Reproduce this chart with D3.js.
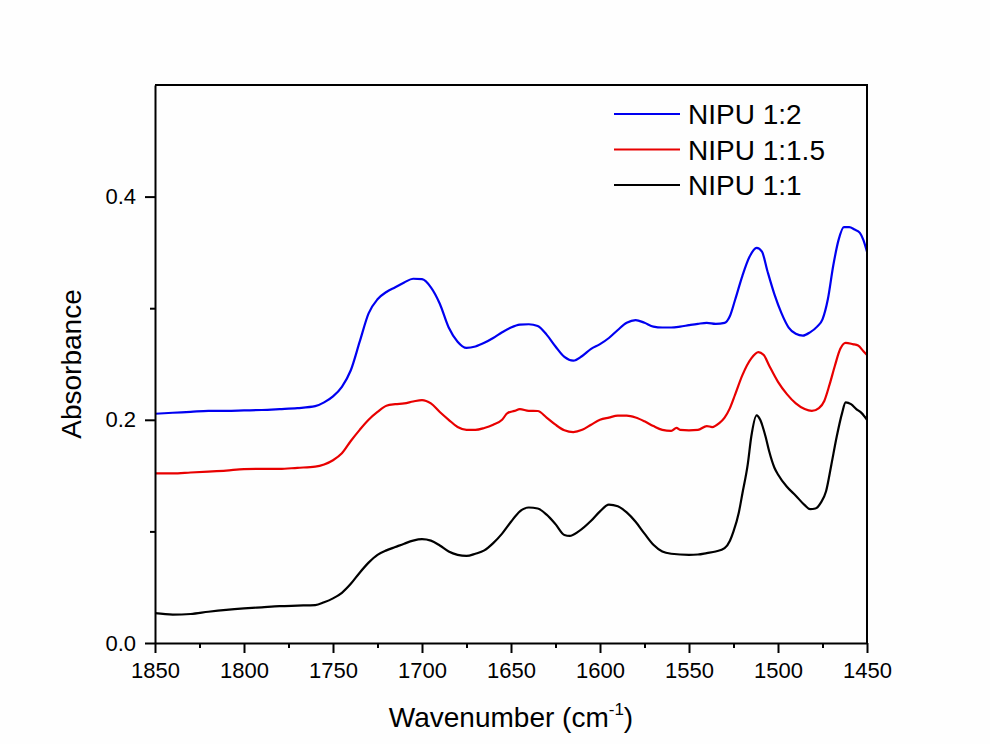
<!DOCTYPE html>
<html>
<head>
<meta charset="utf-8">
<script src="https://cdn.jsdelivr.net/npm/d3@7"></script>
<style>
  html, body { margin: 0; padding: 0; background: #fefefe; }
  svg { display: block; font-family: "Liberation Sans", Arial, sans-serif; }
</style>
</head>
<body>
<svg id="chart" width="990" height="744"></svg>
<script>
// FTIR spectra, values
const nipu12Wn  = [1850,1840,1830,1820,1810,1800,1790,1780,1770,1760,1755,1750,1745,1740,1735,1730,1725,1720,1715,1710,1705,1700,1695,1690,1685,1680,1675,1670,1665,1660,1655,1650,1645,1640,1635,1630,1625,1620,1615,1610,1605,1600,1595,1590,1585,1580,1575,1570,1565,1560,1555,1550,1545,1540,1535,1530,1527,1524,1520,1516,1512,1509,1506,1502,1498,1494,1490,1486,1482,1478,1475,1472,1469,1466,1463,1460,1457,1454,1452,1450];
const nipu12Abs = [0.2054,0.2063,0.2071,0.208,0.208,0.2084,0.2088,0.2096,0.2105,0.2122,0.2156,0.221,0.2296,0.2444,0.270,0.2954,0.308,0.3145,0.3187,0.323,0.3264,0.326,0.3187,0.304,0.2827,0.270,0.2644,0.2657,0.269,0.2733,0.2784,0.2827,0.2852,0.2856,0.284,0.2763,0.2657,0.2563,0.253,0.2572,0.2636,0.2678,0.2733,0.2805,0.2869,0.2894,0.2869,0.2835,0.2827,0.2827,0.2835,0.2848,0.286,0.2869,0.286,0.2869,0.293,0.308,0.329,0.346,0.354,0.3506,0.3336,0.3124,0.2954,0.2827,0.2771,0.2754,0.2784,0.2835,0.290,0.308,0.3378,0.361,0.3726,0.3726,0.3705,0.3675,0.361,0.3505];

const nipu115Wn  = [1850,1840,1830,1820,1810,1800,1790,1780,1770,1760,1755,1750,1745,1740,1735,1730,1725,1720,1715,1710,1705,1700,1695,1690,1685,1680,1675,1670,1665,1660,1655,1652,1648,1645,1640,1635,1630,1625,1620,1615,1610,1605,1600,1595,1590,1585,1580,1575,1570,1565,1560,1557,1555,1550,1545,1540,1537,1533,1530,1527,1524,1520,1515,1511,1508,1505,1500,1495,1490,1485,1481,1477,1474,1471,1468,1465,1462,1458,1455,1452,1450];
const nipu115Abs = [0.152,0.152,0.1528,0.1536,0.1545,0.1558,0.156,0.156,0.157,0.158,0.160,0.1638,0.170,0.181,0.191,0.200,0.207,0.2126,0.214,0.2147,0.2164,0.2177,0.2147,0.207,0.200,0.1935,0.191,0.191,0.1927,0.1956,0.200,0.206,0.208,0.2096,0.208,0.2079,0.202,0.1956,0.1906,0.189,0.191,0.1956,0.200,0.202,0.2037,0.2037,0.202,0.1986,0.1944,0.191,0.190,0.1927,0.191,0.1906,0.191,0.1944,0.1935,0.197,0.202,0.2105,0.223,0.240,0.255,0.2606,0.258,0.2487,0.234,0.223,0.2147,0.2096,0.208,0.2105,0.2169,0.2317,0.2487,0.2636,0.269,0.2678,0.2665,0.2614,0.258];

const nipu11Wn  = [1850,1840,1830,1820,1810,1800,1790,1780,1770,1760,1755,1750,1745,1740,1735,1730,1725,1720,1715,1710,1705,1700,1695,1690,1685,1680,1675,1670,1665,1660,1655,1650,1645,1640,1635,1630,1625,1620,1617,1612,1605,1600,1595,1590,1585,1580,1575,1570,1565,1560,1550,1545,1540,1535,1530,1527,1525,1522,1520,1517,1515,1512,1510,1507,1505,1502,1500,1495,1490,1485,1482,1479,1476,1473,1470,1467,1464,1462,1459,1456,1453,1450];
const nipu11Abs = [0.0267,0.0255,0.026,0.028,0.0297,0.031,0.032,0.033,0.0335,0.034,0.0365,0.040,0.045,0.053,0.063,0.072,0.079,0.083,0.086,0.089,0.0917,0.093,0.0917,0.0874,0.082,0.079,0.078,0.080,0.083,0.0895,0.098,0.1086,0.118,0.1214,0.1205,0.115,0.1065,0.0968,0.096,0.100,0.1095,0.118,0.124,0.1226,0.117,0.1086,0.098,0.088,0.082,0.080,0.079,0.0793,0.0806,0.082,0.085,0.0917,0.100,0.117,0.134,0.160,0.185,0.204,0.200,0.185,0.172,0.157,0.151,0.140,0.132,0.1235,0.120,0.1205,0.1256,0.136,0.160,0.185,0.206,0.2156,0.214,0.2096,0.206,0.200];

const seriesNames  = ["NIPU 1:2", "NIPU 1:1.5", "NIPU 1:1"];
const seriesColors = ["#0000f0", "#e80000", "#000000"];
const xTicks = [1850, 1800, 1750, 1700, 1650, 1600, 1550, 1500, 1450];
const yTicks = [0.0, 0.2, 0.4];

const series = [
  { name: seriesNames[0], color: seriesColors[0], wn: nipu12Wn,  abs: nipu12Abs },
  { name: seriesNames[1], color: seriesColors[1], wn: nipu115Wn, abs: nipu115Abs },
  { name: seriesNames[2], color: seriesColors[2], wn: nipu11Wn,  abs: nipu11Abs }
];

const svg = d3.select("#chart");
const plotLeft = 155, plotRight = 867, plotTop = 85, plotBottom = 643;

const x = d3.scaleLinear().domain([1850, 1450]).range([plotLeft, plotRight]);
const y = d3.scaleLinear().domain([0, 0.5]).range([plotBottom, plotTop]);

// curves
const line = d3.line()
  .x(d => x(d[0])).y(d => y(d[1]))
  .curve(d3.curveMonotoneX);

svg.append("g").selectAll("path")
  .data(series)
  .join("path")
  .attr("d", s => line(s.wn.map((w, i) => [w, s.abs[i]])))
  .attr("fill", "none")
  .attr("stroke", s => s.color)
  .attr("stroke-width", 2.2)
  .attr("stroke-linejoin", "round");

// frame (top and right)
svg.append("path")
  .attr("d", `M${plotLeft},${plotTop}H${plotRight}V${plotBottom}`)
  .attr("fill", "none").attr("stroke", "#000").attr("stroke-width", 2);

// bottom axis
svg.append("g")
  .attr("transform", `translate(0,${plotBottom})`)
  .call(d3.axisBottom(x).tickValues(xTicks).tickFormat(d3.format("d"))
    .tickSize(10).tickPadding(9).tickSizeOuter(0));
svg.append("g")
  .attr("transform", `translate(0,${plotBottom})`)
  .call(d3.axisBottom(x).tickValues(d3.range(1825, 1450, -50)).tickSize(5).tickFormat("").tickSizeOuter(0))
  .call(g => g.select(".domain").remove());

// left axis
svg.append("g")
  .attr("transform", `translate(${plotLeft},0)`)
  .call(d3.axisLeft(y).tickValues(yTicks).tickFormat(d3.format(".1f"))
    .tickSize(10).tickPadding(9).tickSizeOuter(0));
svg.append("g")
  .attr("transform", `translate(${plotLeft},0)`)
  .call(d3.axisLeft(y).tickValues([0.1, 0.3]).tickSize(5).tickFormat("").tickSizeOuter(0))
  .call(g => g.select(".domain").remove());

svg.selectAll(".domain").attr("stroke-width", 2);
svg.selectAll(".tick line").attr("stroke-width", 2);
svg.selectAll(".tick text")
  .attr("font-size", 22)
  .attr("font-family", "Liberation Sans, Arial, sans-serif")
  .attr("fill", "#000");

// axis titles
const xTitle = svg.append("text")
  .attr("x", (plotLeft + plotRight) / 2)
  .attr("y", 727)
  .attr("text-anchor", "middle")
  .attr("font-size", 28)
  .attr("fill", "#000");
xTitle.append("tspan").text("Wavenumber (cm");
xTitle.append("tspan").attr("font-size", 17).attr("dy", -12).text("-1");
xTitle.append("tspan").attr("dy", 12).text(")");

svg.append("text")
  .attr("transform", `translate(81,${(plotTop + plotBottom) / 2}) rotate(-90)`)
  .attr("text-anchor", "middle")
  .attr("font-size", 28)
  .attr("fill", "#000")
  .text("Absorbance");

// legend
const legend = svg.append("g").selectAll("g")
  .data(series)
  .join("g")
  .attr("transform", (d, i) => `translate(614,${114 + i * 35.5})`);
legend.append("line")
  .attr("x1", 0).attr("x2", 66)
  .attr("stroke", d => d.color).attr("stroke-width", 2.2);
legend.append("text")
  .attr("x", 74).attr("y", 10)
  .attr("font-size", 28)
  .attr("fill", "#000")
  .text(d => d.name);
</script>
</body>
</html>
